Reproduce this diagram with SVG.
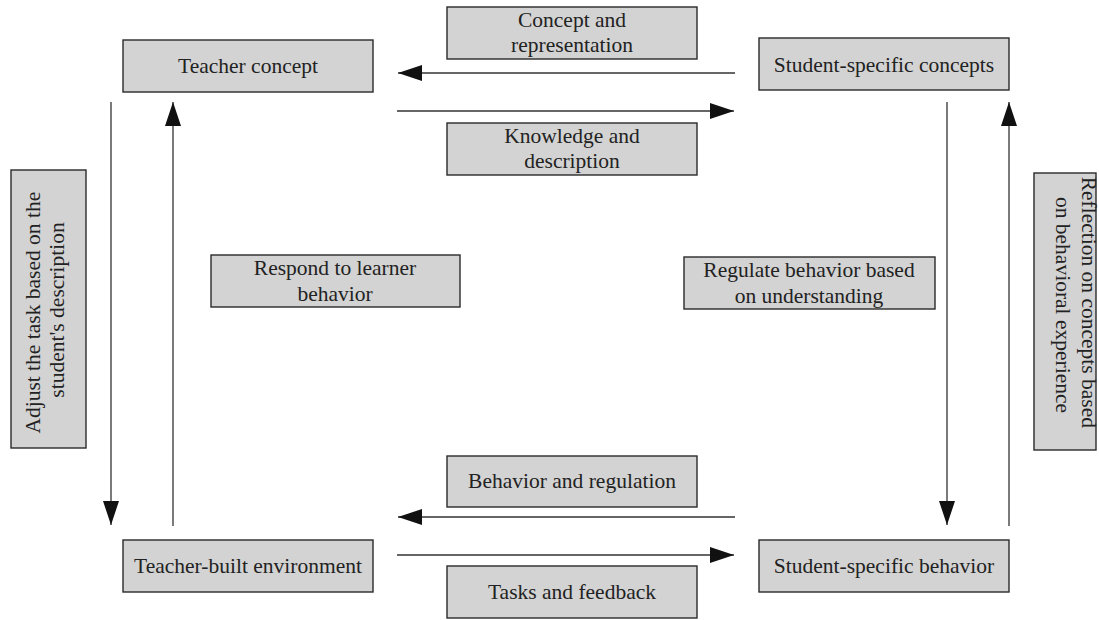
<svg xmlns="http://www.w3.org/2000/svg" width="1099" height="620" viewBox="0 0 1099 620">
  <style>
    .box { fill: #d3d3d3; stroke: #2a2a2a; stroke-width: 1.4; }
    .lbl { font-family: "Liberation Serif", "Times New Roman", serif; font-size: 21.5px; fill: #222; text-anchor: middle; }
    .wire { stroke: #333; stroke-width: 1.3; fill: none; }
  </style>
  <defs>
    <marker id="head" markerUnits="userSpaceOnUse" markerWidth="24" markerHeight="16" refX="24" refY="8" orient="auto">
      <path d="M0,0 L24,8 L0,16 Z" fill="#111"/>
    </marker>
  </defs>
  <rect width="1099" height="620" fill="#fff"/>

  <!-- connectors -->
  <g id="connectors">
    <path class="wire" d="M735,73 H398" marker-end="url(#head)"/>
    <path class="wire" d="M397,111 H734" marker-end="url(#head)"/>
    <path class="wire" d="M735,517 H398" marker-end="url(#head)"/>
    <path class="wire" d="M397,555 H734" marker-end="url(#head)"/>
    <path class="wire" d="M111,102 V525" marker-end="url(#head)"/>
    <path class="wire" d="M173,526 V102" marker-end="url(#head)"/>
    <path class="wire" d="M947,102 V525" marker-end="url(#head)"/>
    <path class="wire" d="M1009,526 V102" marker-end="url(#head)"/>
  </g>

  <!-- main nodes -->
  <g id="teacher-concept">
    <rect class="box" x="123" y="40" width="250" height="52"/>
    <text class="lbl" x="248" y="73">Teacher concept</text>
  </g>
  <g id="student-concepts">
    <rect class="box" x="759" y="38" width="250" height="52"/>
    <text class="lbl" x="884" y="72">Student-specific concepts</text>
  </g>
  <g id="teacher-environment">
    <rect class="box" x="123" y="540" width="250" height="52"/>
    <text class="lbl" x="248" y="573">Teacher-built environment</text>
  </g>
  <g id="student-behavior">
    <rect class="box" x="759" y="540" width="250" height="52"/>
    <text class="lbl" x="884" y="573">Student-specific behavior</text>
  </g>

  <!-- edge labels -->
  <g id="concept-representation">
    <rect class="box" x="447" y="7" width="250" height="52"/>
    <text class="lbl" x="572" y="27">Concept and</text>
    <text class="lbl" x="572" y="52">representation</text>
  </g>
  <g id="knowledge-description">
    <rect class="box" x="447" y="123" width="250" height="52"/>
    <text class="lbl" x="572" y="143">Knowledge and</text>
    <text class="lbl" x="572" y="168">description</text>
  </g>
  <g id="behavior-regulation">
    <rect class="box" x="447" y="456" width="250" height="51"/>
    <text class="lbl" x="572" y="488">Behavior and regulation</text>
  </g>
  <g id="tasks-feedback">
    <rect class="box" x="447" y="566" width="250" height="52"/>
    <text class="lbl" x="572" y="599">Tasks and feedback</text>
  </g>
  <g id="respond-learner">
    <rect class="box" x="211" y="255" width="249" height="52"/>
    <text class="lbl" x="335" y="275">Respond to learner</text>
    <text class="lbl" x="335" y="301">behavior</text>
  </g>
  <g id="regulate-behavior">
    <rect class="box" x="684" y="257" width="251" height="52"/>
    <text class="lbl" x="809" y="277">Regulate behavior based</text>
    <text class="lbl" x="809" y="303">on understanding</text>
  </g>
  <g id="adjust-task">
    <rect class="box" x="11" y="170" width="75" height="278"/>
    <text class="lbl" transform="translate(40,310) rotate(-90)">
      <tspan x="0" y="0">Adjust the task based on the</tspan>
      <tspan x="0" y="24">student's description</tspan>
    </text>
  </g>
  <g id="reflection">
    <rect class="box" x="1034" y="173" width="62" height="277"/>
    <text class="lbl" transform="translate(1082,305) rotate(90)">
      <tspan x="0" y="0">Reflection on concepts based</tspan>
      <tspan x="0" y="26">on behavioral experience</tspan>
    </text>
  </g>
</svg>
